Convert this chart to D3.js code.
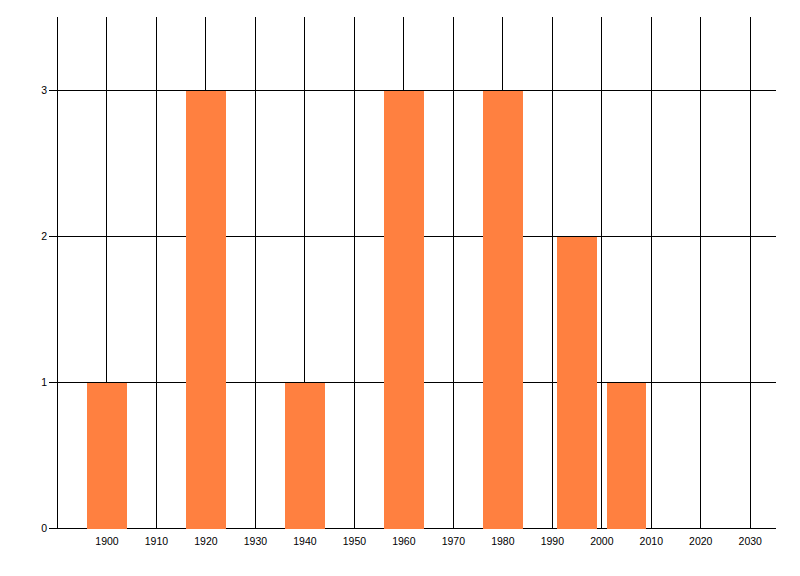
<!DOCTYPE html>
<html><head><meta charset="utf-8">
<script src="https://cdn.jsdelivr.net/npm/d3@7"></script>
<style>
html,body{margin:0;padding:0;background:#fff;}
svg{display:block;}
text{font-family:"Liberation Sans",Arial,sans-serif;font-size:10.5px;fill:#000;}
</style></head>
<body>
<svg id="chart" width="800" height="576"></svg>
<script>
const years = [1900, 1920, 1940, 1960, 1980, 1995, 2005];
const counts = [1, 3, 1, 3, 3, 2, 1];
const xTicks = [1900, 1910, 1920, 1930, 1940, 1950, 1960, 1970, 1980, 1990, 2000, 2010, 2020, 2030];
const yTicks = [0, 1, 2, 3];
const xDomain = [1890, 2035];
const yDomain = [0, 3.5];
const barYears = 8;

const m = {left: 57.5, right: 25, top: 17, bottom: 48};
const W = 800, H = 576;
const svg = d3.select("#chart");
const x = d3.scaleLinear().domain(xDomain).range([m.left, W - m.right]);
const y = d3.scaleLinear().domain(yDomain).range([H - m.bottom, m.top]);

const g = svg.append("g").attr("shape-rendering", "crispEdges");

// vertical grid lines
g.selectAll(".vg").data([xDomain[0]].concat(xTicks)).enter().append("line")
  .attr("x1", d => Math.floor(x(d)) + 0.5).attr("x2", d => Math.floor(x(d)) + 0.5)
  .attr("y1", y(yDomain[1])).attr("y2", y(0))
  .attr("stroke", "#000").attr("stroke-width", 1);

// horizontal grid lines (with tick extension)
g.selectAll(".hg").data(yTicks).enter().append("line")
  .attr("x1", 49).attr("x2", W - m.right + 1)
  .attr("y1", d => Math.round(y(d)) + 0.5).attr("y2", d => Math.round(y(d)) + 0.5)
  .attr("stroke", "#000").attr("stroke-width", 1);

// bars
const data = years.map((yr, i) => ({yr, v: counts[i]}));
g.selectAll(".bar").data(data).enter().append("rect")
  .attr("x", d => x(d.yr - barYears / 2))
  .attr("width", d => x(d.yr + barYears / 2) - x(d.yr - barYears / 2))
  .attr("y", d => y(d.v) + 0.5)
  .attr("height", d => y(0) - y(d.v))
  .attr("fill", "#FF8040");

// y labels
svg.selectAll(".yl").data(yTicks).enter().append("text")
  .attr("x", 47).attr("y", d => y(d))
  .attr("dy", "0.35em").attr("text-anchor", "end")
  .text(d => d);

// x labels
svg.selectAll(".xl").data(xTicks).enter().append("text")
  .attr("x", d => x(d)).attr("y", y(0) + 13)
  .attr("dy", "0.35em").attr("text-anchor", "middle")
  .text(d => d);
</script>
</body></html>
